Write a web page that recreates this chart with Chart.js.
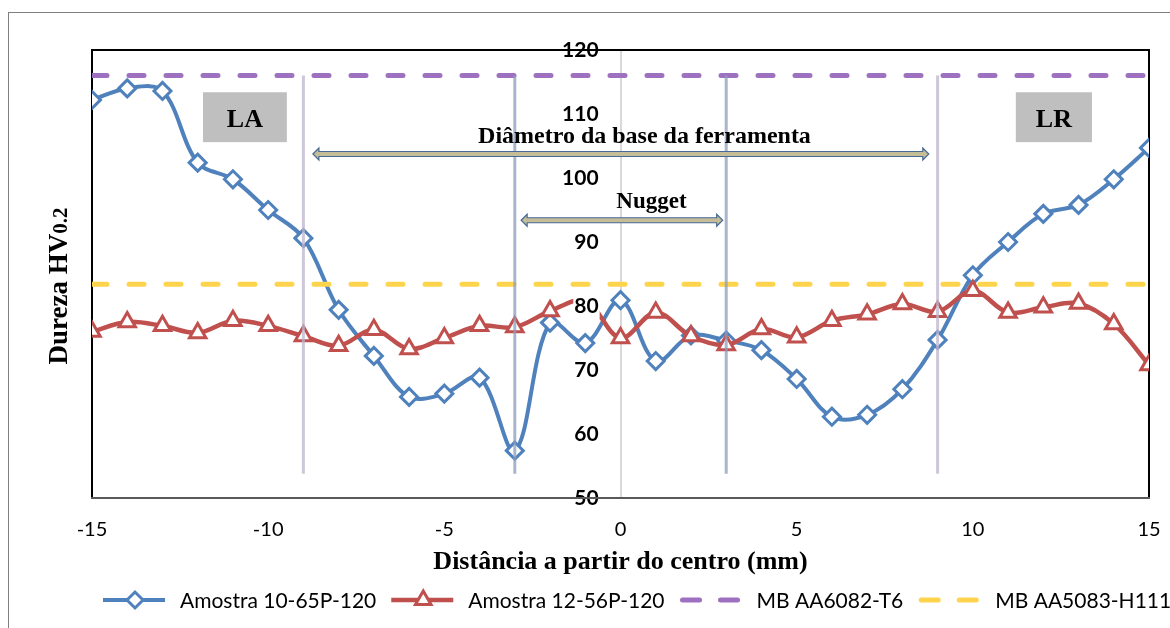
<!DOCTYPE html>
<html>
<head>
<meta charset="utf-8">
<script src="https://cdn.jsdelivr.net/npm/chart.js@4.4.0/dist/chart.umd.min.js"></script>
<style>
    html, body { margin: 0; padding: 0; background: #fff; }
    #wrap { position: relative; width: 1170px; height: 628px; overflow: hidden; }
    #moldura { position: absolute; left: 8px; top: 12px; width: 1200px; height: 700px;
               border-left: 1px solid #7f7f7f; border-top: 1px solid #7f7f7f; }
    canvas { position: absolute; left: 0; top: 0; }
</style>
</head>
<body>
<div id="wrap">
    <div id="moldura"></div>
    <canvas id="durezaChart" width="1170" height="628"></canvas>
</div>
<script>
// Perfis de microdureza ao longo da secção (distância ao centro em mm)
const distancias = [-15, -14, -13, -12, -11, -10, -9, -8, -7, -6, -5, -4, -3, -2, -1, 0,
                    1, 2, 3, 4, 5, 6, 7, 8, 9, 10, 11, 12, 13, 14, 15];
const amostra10 = [112.2, 114.0, 113.6, 102.4, 99.8, 95.0, 90.6, 79.4, 72.2, 65.8, 66.3, 68.8, 57.4, 77.4, 74.2, 80.9,
                   71.4, 75.4, 74.6, 73.1, 68.6, 62.7, 63.0, 67.0, 74.7, 84.8, 90.0, 94.4, 95.8, 99.8, 104.7];
const amostra12 = [76.0, 77.5, 76.9, 75.8, 77.7, 76.9, 75.3, 73.8, 76.3, 73.3, 75.0, 76.9, 76.7, 79.2, 80.8, 75.0,
                   79.0, 75.3, 73.9, 76.4, 75.1, 77.7, 78.7, 80.3, 79.1, 82.4, 79.0, 79.8, 80.4, 77.2, 70.8];

// Dureza dos metais base
const durezaAA6082 = 116;
const durezaAA5083 = 83.4;

// Limites das zonas (nugget e diâmetro da base da ferramenta)
const limitesZonas = [-9, -3, 3, 9];
const zonaTopo = 116;
const zonaBase = 53.8;

const xTicks = [-15, -10, -5, 0, 5, 10, 15];
const yTicks = [50, 60, 70, 80, 90, 100, 110, 120];

// eixo dos valores ligeiramente à esquerda do zero, para os rótulos não tocarem na linha
const posicaoEixoY = -0.62;

const AZUL = '#4f81bd';
const VERMELHO = '#c0504d';
const ROXO = '#9e70c0';
const AMARELO = '#ffd44d';
const SERIF = '"Liberation Serif", "Times New Roman", serif';
const SANS = 'Lato, "Open Sans", sans-serif';

function pontos(valores) {
    return distancias.map((d, i) => ({ x: d, y: valores[i] }));
}

function linhaHorizontal(valor) {
    return [{ x: distancias[0], y: valor }, { x: distancias[distancias.length - 1], y: valor }];
}

const datasets = [
    {
        label: 'Amostra 10-65P-120',
        data: pontos(amostra10),
        borderColor: AZUL,
        borderWidth: 4,
        tension: 0.35,
        pointStyle: 'rectRot',
        pointRadius: 8.5,
        pointBorderWidth: 3,
        pointBackgroundColor: '#fff',
        pointBorderColor: AZUL,
        order: 4
    },
    {
        label: 'Amostra 12-56P-120',
        data: pontos(amostra12),
        borderColor: VERMELHO,
        borderWidth: 4.5,
        tension: 0.35,
        pointStyle: 'triangle',
        // o marcador em -1 fica escondido atrás do rótulo "80"
        pointRadius: distancias.map(d => d === -1 ? 0 : 9.5),
        pointBorderWidth: 3,
        pointBackgroundColor: '#fff',
        pointBorderColor: VERMELHO,
        order: 3
    },
    {
        label: 'MB AA6082-T6',
        data: linhaHorizontal(durezaAA6082),
        borderColor: ROXO,
        borderWidth: 5,
        borderDash: [15, 22],
        borderCapStyle: 'round',
        pointRadius: 0,
        order: 2
    },
    {
        label: 'MB AA5083-H111',
        data: linhaHorizontal(durezaAA5083),
        borderColor: AMARELO,
        borderWidth: 5,
        borderDash: [15, 22],
        borderCapStyle: 'round',
        pointRadius: 0,
        order: 1
    }
];

limitesZonas.forEach(lim => {
    datasets.push({
        label: '',
        data: [{ x: lim, y: zonaTopo }, { x: lim, y: zonaBase }],
        borderColor: Math.abs(lim) > 5 ? 'rgba(190, 180, 206, 0.75)' : 'rgba(140, 156, 188, 0.75)',
        borderWidth: 3,
        pointRadius: 0,
        order: 0
    });
});

// Moldura da área do gráfico
const moldura = {
    id: 'moldura',
    beforeDatasetsDraw(chart) {
        const { ctx, chartArea: a } = chart;
        ctx.save();
        ctx.strokeStyle = '#000';
        ctx.lineWidth = 2;
        ctx.beginPath();
        ctx.moveTo(a.left, a.top);
        ctx.lineTo(a.left, a.bottom);
        ctx.moveTo(a.right, a.top);
        ctx.lineTo(a.right, a.bottom);
        ctx.stroke();
        ctx.restore();
    },
    afterDraw(chart) {
        // topo e base por cima dos rótulos do eixo y
        const { ctx, chartArea: a } = chart;
        ctx.save();
        ctx.lineWidth = 2;
        ctx.strokeStyle = '#000';
        ctx.beginPath();
        ctx.moveTo(a.left - 1, a.top);
        ctx.lineTo(a.right + 1, a.top);
        ctx.stroke();
        ctx.strokeStyle = '#595959';
        ctx.beginPath();
        ctx.moveTo(a.left - 1, a.bottom);
        ctx.lineTo(a.right + 1, a.bottom);
        ctx.stroke();
        ctx.restore();
    }
};

function setaDupla(ctx, x1, x2, y) {
    const h = 6, s = 2.5, c = 6;
    ctx.beginPath();
    ctx.moveTo(x1, y);
    ctx.lineTo(x1 + c, y - h);
    ctx.lineTo(x1 + c, y - s);
    ctx.lineTo(x2 - c, y - s);
    ctx.lineTo(x2 - c, y - h);
    ctx.lineTo(x2, y);
    ctx.lineTo(x2 - c, y + h);
    ctx.lineTo(x2 - c, y + s);
    ctx.lineTo(x1 + c, y + s);
    ctx.lineTo(x1 + c, y + h);
    ctx.closePath();
    ctx.fillStyle = '#c4bd97';
    ctx.fill();
    ctx.lineWidth = 1.2;
    ctx.strokeStyle = '#4a6a96';
    ctx.stroke();
}

// Caixas LA / LR, setas e textos das zonas
const anotacoes = {
    id: 'anotacoes',
    afterDatasetsDraw(chart) {
        const { ctx } = chart;
        const sx = chart.scales.x, sy = chart.scales.y;
        ctx.save();

        [['LA', -11.85, -9.47], ['LR', 11.22, 13.38]].forEach(([txt, a, b]) => {
            const x0 = sx.getPixelForValue(a), x1 = sx.getPixelForValue(b);
            const y0 = sy.getPixelForValue(113.4), y1 = sy.getPixelForValue(105.6);
            ctx.fillStyle = '#bfbfbf';
            ctx.fillRect(x0, y0, x1 - x0, y1 - y0);
            ctx.fillStyle = '#000';
            ctx.font = 'bold 26px ' + SERIF;
            ctx.textAlign = 'center';
            ctx.textBaseline = 'alphabetic';
            ctx.fillText(txt, (x0 + x1) / 2, sy.getPixelForValue(107.9));
        });

        setaDupla(ctx, sx.getPixelForValue(-8.73), sx.getPixelForValue(8.75), sy.getPixelForValue(103.75));
        setaDupla(ctx, sx.getPixelForValue(-2.82), sx.getPixelForValue(2.9), sy.getPixelForValue(93.4));

        ctx.fillStyle = '#000';
        ctx.textAlign = 'center';
        ctx.textBaseline = 'alphabetic';
        ctx.font = 'bold 24px ' + SERIF;
        ctx.fillText('Diâmetro da base da ferramenta', sx.getPixelForValue(0.68), sy.getPixelForValue(105.5));
        ctx.font = 'bold 23px ' + SERIF;
        ctx.fillText('Nugget', sx.getPixelForValue(0.88), sy.getPixelForValue(95.3));
        ctx.restore();
    },
    afterDraw(chart) {
        // título do eixo y com o índice "0.2" menor
        const { ctx, chartArea: a } = chart;
        ctx.save();
        const fPrinc = 'bold 27px ' + SERIF, fSub = 'bold 21px ' + SERIF;
        ctx.font = fPrinc;
        const w1 = ctx.measureText('Dureza HV').width;
        ctx.font = fSub;
        const w2 = ctx.measureText('0.2').width;
        const cy = (a.top + a.bottom) / 2 + 12;
        ctx.translate(a.left - 25, cy + (w1 + w2) / 2);
        ctx.rotate(-Math.PI / 2);
        ctx.fillStyle = '#000';
        ctx.textAlign = 'left';
        ctx.textBaseline = 'alphabetic';
        ctx.font = fPrinc;
        ctx.fillText('Dureza HV', 0, 0);
        ctx.font = fSub;
        ctx.fillText('0.2', w1, 0);
        ctx.restore();
    }
};

function marcador(ctx, estilo, x, y, r) {
    ctx.beginPath();
    if (estilo === 'rectRot') {
        ctx.moveTo(x - r, y);
        ctx.lineTo(x, y - r);
        ctx.lineTo(x + r, y);
        ctx.lineTo(x, y + r);
    } else {
        ctx.moveTo(x, y - r);
        ctx.lineTo(x + r * Math.sin(Math.PI / 3), y + r / 2);
        ctx.lineTo(x - r * Math.sin(Math.PI / 3), y + r / 2);
    }
    ctx.closePath();
    ctx.fillStyle = '#fff';
    ctx.fill();
    ctx.stroke();
}

// Legenda com linha + marcador, como no Excel
const legenda = {
    id: 'legenda',
    afterDraw(chart) {
        const { ctx } = chart;
        const y = 600;
        let x = 103;
        ctx.save();
        ctx.font = '21px ' + SANS;
        ctx.textBaseline = 'middle';
        ctx.textAlign = 'left';
        chart.data.datasets.slice(0, 4).forEach(ds => {
            ctx.strokeStyle = ds.borderColor;
            ctx.lineWidth = ds.borderWidth;
            ctx.lineCap = ds.borderDash ? 'round' : 'butt';
            ctx.setLineDash(ds.borderDash ? [17, 21] : []);
            ctx.beginPath();
            ctx.moveTo(x + (ds.borderDash ? 3 : 0), y);
            ctx.lineTo(x + 62, y);
            ctx.stroke();
            ctx.setLineDash([]);
            if (ds.pointStyle) {
                ctx.lineWidth = 3;
                marcador(ctx, ds.pointStyle, x + 32, y, ds.pointStyle === 'rectRot' ? 8 : 9);
            }
            ctx.fillStyle = '#000';
            ctx.fillText(ds.label, x + 77, y + 1);
            x += 77 + ctx.measureText(ds.label).width + 15;
        });
        ctx.restore();
    }
};

new Chart(document.getElementById('durezaChart').getContext('2d'), {
    type: 'line',
    data: { datasets: datasets },
    options: {
        responsive: false,
        animation: false,
        layout: { padding: { left: 92, right: 21, top: 50, bottom: 0 } },
        plugins: {
            legend: { display: false },
            tooltip: { enabled: false }
        },
        scales: {
            x: {
                type: 'linear',
                min: -15,
                max: 15,
                afterBuildTicks: s => { s.ticks = xTicks.map(v => ({ value: v })); },
                afterFit: s => { s.height = 130; },
                // só a linha vertical do zero; marcas invisíveis afastam os rótulos
                grid: {
                    display: true,
                    drawTicks: true,
                    tickLength: 20,
                    tickColor: 'rgba(0,0,0,0)',
                    lineWidth: 2,
                    color: c => (c.tick && c.tick.value === 0) ? '#d9d9d9' : 'rgba(0,0,0,0)'
                },
                border: { display: false },
                ticks: {
                    font: { family: SANS, size: 20 },
                    color: '#000',
                    padding: 0,
                    maxRotation: 0,
                    autoSkip: false
                },
                title: {
                    display: true,
                    text: 'Distância a partir do centro (mm)',
                    font: { family: SERIF, size: 26, weight: 'bold' },
                    color: '#000',
                    padding: { top: 0, bottom: 50 }
                }
            },
            y: {
                type: 'linear',
                position: { x: posicaoEixoY },
                min: 50,
                max: 120,
                afterBuildTicks: s => { s.ticks = yTicks.map(v => ({ value: v })); },
                grid: { display: false, drawTicks: false },
                border: { display: false },
                ticks: {
                    font: { family: SANS, size: 21, weight: 'bold' },
                    color: '#000',
                    padding: 0,
                    z: 1,
                    showLabelBackdrop: true,
                    backdropColor: '#ffffff',
                    backdropPadding: { top: 0, bottom: 0, left: 1, right: 1 }
                }
            }
        }
    },
    plugins: [moldura, anotacoes, legenda]
});
</script>
</body>
</html>
